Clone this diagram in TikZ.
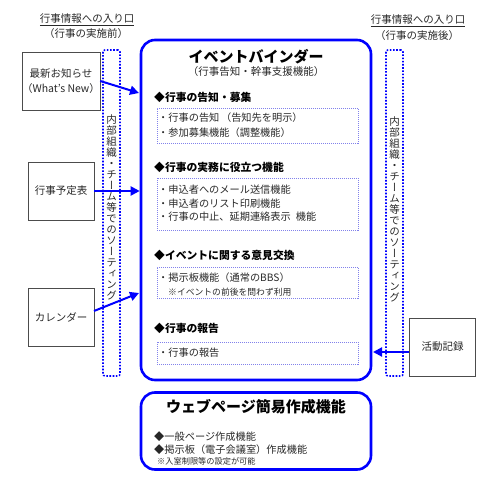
\documentclass[tikz,border=0pt]{standalone}
\usepackage{fontspec}
\setmainfont{Noto Sans CJK JP}
\newfontfamily\tatefont[RawFeature=+vert]{Noto Sans CJK JP}
\usepackage{tikz}
\usetikzlibrary{arrows,arrows.meta}
\usetikzlibrary{positioning}
\definecolor{bindblue}{RGB}{0,0,255}
\definecolor{itemblue}{RGB}{130,130,235}
\definecolor{inktext}{RGB}{40,40,40}
\begin{document}
\begin{tikzpicture}[x=1pt,y=-1pt,every node/.style={text=inktext,font=\fontsize{10.5}{12}\selectfont},
  srcbox/.style={rectangle,draw=black!70,line width=0.6pt,minimum width=66pt,minimum height=58pt,align=center,inner sep=0pt,font=\fontsize{10.5}{15}\selectfont},
  binder/.style={rectangle,draw=bindblue,line width=2.6pt,rounded corners=14pt,minimum width=230pt},
  sortbox/.style={rectangle,draw=bindblue,line width=1.6pt,dash pattern=on 1.6pt off 1.6pt,rounded corners=2pt,minimum width=17pt,minimum height=326pt},
  itembox/.style={rectangle,draw=itemblue,line width=0.7pt,dash pattern=on 1pt off 1pt,minimum width=201pt},
  head/.style={anchor=west,inner sep=0pt,text=black,font=\bfseries\fontsize{10.8}{12}\selectfont},
  item/.style={anchor=west,inner sep=0pt,font=\fontsize{10.2}{12}\selectfont},
  note/.style={anchor=west,inner sep=0pt,font=\fontsize{8.8}{10}\selectfont},
  tate/.style={align=center,inner sep=0pt,font=\tatefont\fontsize{10.5}{11}\selectfont},
  feed/.style={draw=bindblue,line width=2pt,-{Triangle[length=9pt,width=9pt]}}]
\useasboundingbox (0,0) rectangle (497,481);
\node at (87,20)(ttlA){\underline{行事情報への入り口}};
\node at (86,34)(subA){（行事の実施前）};
\node at (418,21)(ttlB){\underline{行事情報への入り口}};
\node at (417,36)(subB){（行事の実施後）};
\node at (61,81)[srcbox](news){最新お知らせ\\（What’s New）};
\node at (61,191)[srcbox](plan){行事予定表};
\node at (61,317.5)[srcbox](cal){カレンダー};
\node at (442.5,347)[srcbox](rec){活動記録};
\node at (111.5,213)[sortbox](sortA){};
\node at (394.5,213)[sortbox](sortB){};
\node at (111.5,207)[tate](tateA){内\\部\\組\\織\\・\\チ\\ー\\ム\\等\\で\\の\\ソ\\ー\\テ\\ィ\\ン\\グ};
\node at (394.5,209)[tate](tateB){内\\部\\組\\織\\・\\チ\\ー\\ム\\等\\で\\の\\ソ\\ー\\テ\\ィ\\ン\\グ};
\node at (256,210)[binder,minimum height=340pt](main){};
\node at (256,431)[binder,minimum height=77pt](web){};
\node at (256,57)[text=black,font=\bfseries\fontsize{15}{16}\selectfont](ttlM){イベントバインダー};
\node at (256,72)(subM){（行事告知・幹事支援機能）};
\node at (154,97)[head](hd1){◆行事の告知・募集};
\node at (257.5,125.5)[itembox,minimum height=35pt](ib1){};
\node at (158,118)[item](it11){・行事の告知\,（告知先を明示）};
\node at (158,133)[item](it12){・参加募集機能（調整機能）};
\node at (154,167)[head](hd2){◆行事の実務に役立つ機能};
\node at (257.5,204)[itembox,minimum height=52pt](ib2){};
\node at (158,190)[item](it21){・申込者へのメール送信機能};
\node at (158,203.5)[item](it22){・申込者のリスト印刷機能};
\node at (158,217)[item](it23){・行事の中止、延期連絡表示\enspace 機能};
\node at (154,255)[head](hd3){◆イベントに関する意見交換};
\node at (257.5,282.5)[itembox,minimum height=31pt](ib3){};
\node at (158,278)[item](it31){・掲示板機能（通常のBBS）};
\node at (168,292)[note](it32){※イベントの前後を問わず利用};
\node at (154,328)[head](hd4){◆行事の報告};
\node at (257.5,353)[itembox,minimum height=22pt](ib4){};
\node at (158,353)[item](it41){・行事の報告};
\node at (256,407)[text=black,font=\bfseries\fontsize{15}{16}\selectfont](ttlW){ウェブページ簡易作成機能};
\node at (154,437)[item](wb1){◆一般ページ作成機能};
\node at (154,450)[item](wb2){◆掲示板（電子会議室）作成機能};
\node at (157,461)[note,font=\fontsize{8.2}{9}\selectfont](wb3){※入室制限等の設定が可能};
\coordinate (inA) at (139,93);
\coordinate (outC) at (94,311);
\coordinate (inC) at (139,293);
\coordinate (outR) at (409,352);
\coordinate (inR) at (373,352);
\draw[feed] (news.east) -- (inA);
\draw[feed] (plan.east) -- (main.west |- plan.east);
\draw[feed] (outC) -- (inC);
\draw[feed] (outR) -- (inR);
\end{tikzpicture}
\end{document}
